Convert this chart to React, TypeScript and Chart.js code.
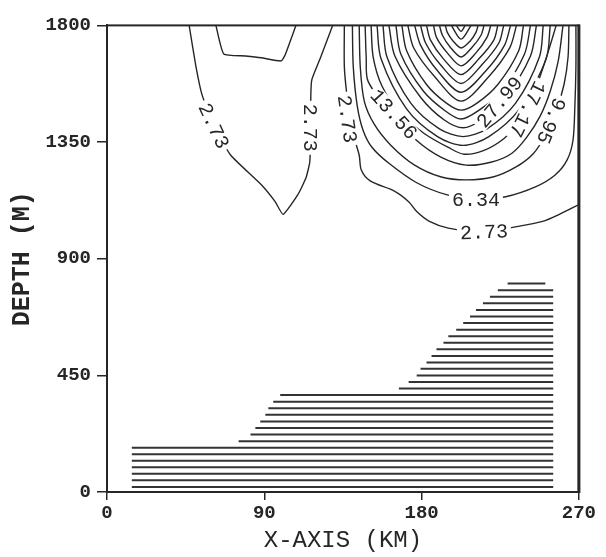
import React, { useEffect, useRef } from "react";
import { Chart, registerables } from "chart.js";

Chart.register(...registerables);

// ---- axes ----
const X_TICKS = [0, 90, 180, 270];
const Y_TICKS = [0, 450, 900, 1350, 1800];
const X_TITLE = "X-AXIS (KM)";
const Y_TITLE = "DEPTH (M)";

// ---- contour lines: [x (km), depth (m)] ----
// small western cell
const west273 = [[47.0,1800],[50.9,1641],[54.3,1534],[61.1,1413],[70.8,1299],[88.3,1185],[96.2,1120],[100.8,1071],[109.2,1147],[113.8,1211],[116.0,1272],[116.6,1405],[116.6,1527],[117.2,1591],[122.3,1678],[129.1,1800]];
const west634 = [[62.3,1800],[66.8,1690],[79.2,1682],[88.3,1675],[99.6,1663],[101.9,1686],[108.1,1800]];
// eastern core
const c273 = [[135.8,1800],[135.8,1641],[137.0,1546],[139.5,1413],[144.3,1299],[145.5,1242],[150.6,1200],[164.7,1160],[172.6,1120],[177.2,1082],[184.5,1044],[195.3,1018],[215.7,1003],[232.2,1021],[249.2,1044],[258.8,1071],[270,1109]];
const c634 = [[140.4,1800],[140.9,1641],[143.2,1489],[146.6,1394],[151.7,1329],[161.3,1268],[177.2,1193],[194.2,1147],[211.1,1128],[228.1,1139],[245.1,1177],[256.4,1223],[263.2,1280],[266.6,1356],[267.7,1489],[268.3,1641],[268.3,1800]];
const c995 = [[144.3,1800],[144.9,1641],[147.2,1508],[152.8,1420],[162.5,1337],[176.0,1261],[191.3,1215],[205.5,1204],[220.8,1215],[233.8,1253],[244.0,1306],[251.3,1382],[257.0,1470],[261.5,1572],[263.8,1678],[264.3,1800]];
const c1356 = [[147.7,1800],[148.3,1678],[149.4,1584],[163.0,1458],[177.2,1356],[191.3,1291],[205.5,1261],[219.6,1272],[231.5,1306],[240.0,1367],[247.9,1451],[253.6,1546],[258.1,1660],[260.9,1800]];
const c1717 = [[151.1,1800],[152.3,1678],[157.4,1565],[167.5,1462],[181.7,1382],[195.3,1329],[204.3,1303],[215.7,1318],[227.0,1363],[234.9,1420],[241.1,1489],[246.8,1584],[252.4,1698],[257.0,1800]];
const c2078 = [[154.5,1800],[156.8,1671],[171.5,1477],[189.1,1371],[203.8,1337],[218.5,1371],[236.0,1477],[251.3,1671],[253.6,1800]];
const c2439 = [[157.9,1800],[160.2,1678],[173.8,1500],[190.2,1401],[203.8,1371],[217.4,1401],[233.8,1500],[247.4,1678],[249.6,1800]];
const c2799 = [[161.3,1800],[164.7,1682],[179.4,1523],[193.0,1435],[203.8,1405],[214.0,1435],[228.1,1523],[242.3,1682],[245.7,1800]];
const c3160 = [[165.3,1800],[168.1,1690],[181.1,1546],[193.6,1470],[202.6,1439],[212.3,1470],[225.8,1546],[238.9,1690],[242.3,1800]];
const c3521 = [[168.7,1800],[171.5,1701],[182.8,1572],[194.2,1500],[202.6,1473],[211.7,1500],[223.6,1572],[235.5,1701],[238.3,1800]];
const c3882 = [[172.1,1800],[175.5,1713],[187.4,1603],[202.6,1508],[218.5,1603],[230.4,1713],[234.3,1800]];
const c4243 = [[176.0,1800],[179.4,1724],[189.1,1625],[202.6,1542],[216.8,1625],[227.5,1724],[230.9,1800]];
const c4604 = [[179.4,1800],[182.3,1732],[190.8,1648],[202.6,1576],[214.5,1648],[224.2,1732],[227.0,1800]];
const c4965 = [[182.8,1800],[185.1,1743],[192.5,1671],[202.6,1610],[212.8,1671],[221.3,1743],[223.6,1800]];
const c5326 = [[186.8,1800],[188.5,1754],[194.7,1694],[202.6,1644],[211.1,1694],[217.4,1754],[219.6,1800]];
const c5687 = [[190.2,1800],[191.9,1762],[196.4,1716],[202.6,1678],[208.9,1716],[214.0,1762],[215.7,1800]];
const c6048 = [[193.6,1800],[194.7,1773],[198.1,1739],[202.6,1713],[207.7,1739],[211.1,1773],[212.3,1800]];
const c6409 = [[197.0,1800],[202.6,1747],[208.3,1800]];
const c6770 = [[199.8,1800],[202.6,1777],[204.9,1800]];

const contours = [west273, west634, c273, c634, c995, c1356, c1717, c2078, c2439, c2799, c3160, c3521, c3882, c4243, c4604, c4965, c5326, c5687, c6048, c6409, c6770];

// ---- bottom topography hatching ----
const hatchDepth = [19, 45, 70, 95, 121, 146, 171, 196, 222, 247, 272, 298, 323, 348, 374, 399, 424, 449, 475, 500, 525, 551, 576, 601, 626, 652, 677, 702, 728, 753, 778, 804];
const hatchStart = [14.2, 14.2, 14.2, 14.2, 14.2, 14.2, 14.2, 75.3, 82.1, 84.9, 87.7, 90.6, 92.3, 95.1, 99.1, 167.0, 172.6, 177.2, 179.4, 182.8, 185.7, 188.5, 192.5, 195.3, 199.8, 203.8, 207.7, 211.1, 215.1, 219.1, 223.6, 229.2];
const hatchEnd = [255.3, 255.3, 255.3, 255.3, 255.3, 255.3, 255.3, 255.3, 255.3, 255.3, 255.3, 255.3, 255.3, 255.3, 255.3, 255.3, 255.3, 255.3, 255.3, 255.3, 255.3, 255.3, 255.3, 255.3, 255.3, 255.3, 255.3, 255.3, 255.3, 255.3, 255.3, 250.8];

// ---- contour labels ----
const labelText = ["2.73", "2.73", "2.73", "13.56", "27.99", "17.17", "9.95", "6.34", "2.73"];
const labelX = [61.1, 116.6, 137.5, 164.2, 224.5, 240.6, 254.2, 211.1, 215.7];
const labelY = [1413, 1405, 1439, 1458, 1505, 1477, 1432, 1128, 1003];
const labelAngle = [65, 90, 82, 48, -50, 116, 112, 0, -2];

const INK = "#262626";
const MONO = '"Liberation Mono", "DejaVu Sans Mono", monospace';

const labelPlugin = {
  id: "contourLabels",
  afterDatasetsDraw(chart: any) {
    const { ctx, chartArea } = chart;
    const xs = chart.scales.x;
    const ys = chart.scales.y;
    ctx.save();
    ctx.font = `20px ${MONO}`;
    for (let i = 0; i < labelText.length; i++) {
      const px = xs.getPixelForValue(labelX[i]);
      const py = ys.getPixelForValue(labelY[i]);
      ctx.save();
      ctx.translate(px, py);
      ctx.rotate((labelAngle[i] * Math.PI) / 180);
      const w = ctx.measureText(labelText[i]).width;
      ctx.fillStyle = "#ffffff";
      ctx.fillRect(-w / 2 - 3, -8, w + 6, 16);
      ctx.fillStyle = INK;
      ctx.textAlign = "center";
      ctx.textBaseline = "middle";
      ctx.fillText(labelText[i], 0, 1);
      ctx.restore();
    }
    ctx.strokeStyle = INK;
    ctx.lineWidth = 2;
    ctx.strokeRect(chartArea.left, chartArea.top, chartArea.right - chartArea.left, chartArea.bottom - chartArea.top);
    ctx.lineWidth = 3;
    ctx.beginPath();
    ctx.moveTo(chartArea.right, chartArea.top - 1);
    ctx.lineTo(chartArea.right, chartArea.bottom + 1);
    ctx.stroke();
    ctx.restore();
  },
};

export default function App() {
  const ref = useRef<HTMLCanvasElement | null>(null);

  useEffect(() => {
    if (!ref.current) return;
    const datasets: any[] = [];
    for (let i = 0; i < hatchDepth.length; i++) {
      datasets.push({
        data: [
          { x: hatchStart[i], y: hatchDepth[i] },
          { x: hatchEnd[i], y: hatchDepth[i] },
        ],
        showLine: true,
        borderColor: "#333333",
        borderWidth: 2,
        pointRadius: 0,
        tension: 0,
      });
    }
    contours.forEach((c, i) => {
      datasets.push({
        data: c.map(([x, y]) => ({ x, y })),
        showLine: true,
        borderColor: INK,
        borderWidth: 1.4,
        pointRadius: 0,
        tension: i < 2 ? 0.15 : 0.3,
      });
    });

    const tickFont = { family: MONO, size: 19, weight: "bold" as const };
    const chart = new Chart(ref.current, {
      type: "scatter",
      data: { datasets },
      options: {
        responsive: false,
        animation: false,
        events: [],
        layout: { padding: { top: 10, right: 14, left: 0, bottom: 0 } },
        plugins: { legend: { display: false }, tooltip: { enabled: false } },
        scales: {
          x: {
            type: "linear",
            min: 0,
            max: 270,
            afterBuildTicks: (s: any) => {
              s.ticks = X_TICKS.map((v) => ({ value: v }));
            },
            afterFit: (s: any) => {
              s.height = 65;
            },
            ticks: { font: tickFont, color: INK, padding: 2, maxRotation: 0, callback: (v: any) => String(v) },
            grid: { drawOnChartArea: false, tickLength: 8, color: INK, lineWidth: 1.5 },
            border: { display: true, color: INK, width: 2 },
            title: {
              display: true,
              text: X_TITLE,
              color: INK,
              font: { family: MONO, size: 24, weight: "normal" },
              padding: { top: 0, bottom: 2 },
            },
          },
          y: {
            type: "linear",
            min: 0,
            max: 1800,
            afterBuildTicks: (s: any) => {
              s.ticks = Y_TICKS.map((v) => ({ value: v }));
            },
            afterFit: (s: any) => {
              s.width = 99;
            },
            ticks: { font: tickFont, color: INK, padding: 6, callback: (v: any) => String(v) },
            grid: { drawOnChartArea: false, tickLength: 10, color: INK, lineWidth: 1.5 },
            border: { display: true, color: INK, width: 2 },
            title: {
              display: true,
              text: Y_TITLE,
              color: INK,
              font: { family: MONO, size: 25, weight: "bold" },
              padding: { top: 0, bottom: 0 },
            },
          },
        },
      } as any,
      plugins: [labelPlugin],
    });
    return () => chart.destroy();
  }, []);

  return (
    <div style={{ width: 590, height: 549, background: "#fff" }}>
      <canvas ref={ref} width={590} height={549} style={{ display: "block" }} />
    </div>
  );
}
